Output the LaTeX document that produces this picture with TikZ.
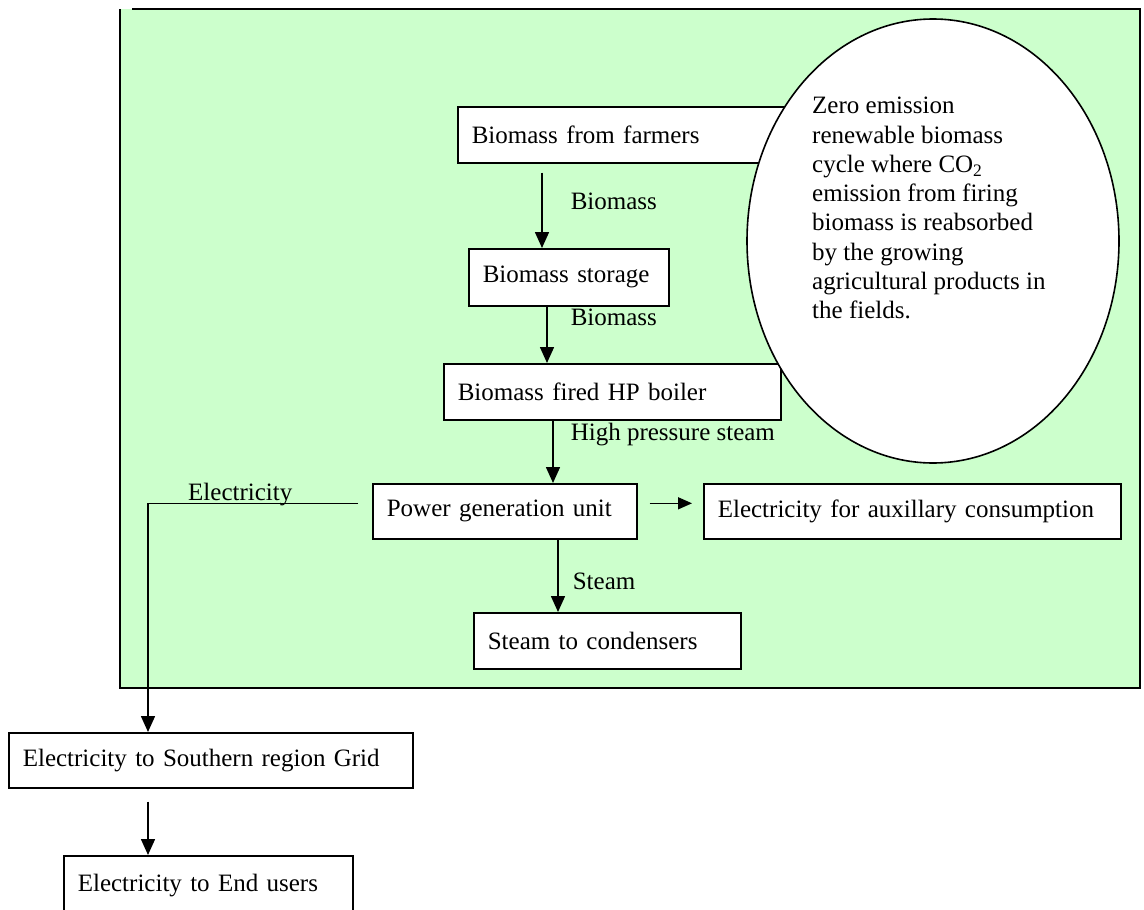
\documentclass[tikz,border=0pt]{standalone}
\usepackage{fontspec}
\setmainfont{Liberation Serif}
\usetikzlibrary{arrows.meta,shapes.geometric}
\definecolor{bggreen}{HTML}{CCFFCC}
\begin{document}
\begin{tikzpicture}[x=1pt,y=-1pt,
  txt/.style={font=\fontsize{25}{29.3}\selectfont},
  box/.style={txt, draw=black, line width=1.6pt, fill=white, anchor=north west,
    inner xsep=14pt, inner ysep=0pt, align=left},
  lbl/.style={txt, inner sep=0pt},
  arr/.style={line width=1.6pt, -{Triangle[width=14pt,length=16pt]}},
  arrsmall/.style={line width=1.6pt, -{Triangle[width=12pt,length=14pt]}}]
\useasboundingbox (0,0) rectangle (1144,910);
% background frame
\fill[bggreen] (120,9) rectangle (1140,688);
\draw[line width=1.6pt] (132,9) -- (1140,9) -- (1140,688) -- (120,688) -- (120,9);
% boxes
\node[box, text width=335pt, minimum height=56pt] (b1) at (457,106) {Biomass from farmers};
\node[box, text width=172pt, minimum height=57pt] (b2) at (468,248) {Biomass storage};
\node[box, text width=309pt, minimum height=56pt] (b3) at (443,363) {Biomass fired HP boiler};
\node[box, text width=236pt, minimum height=55pt] (b4) at (372,483) {Power generation unit};
\node[box, text width=389pt, minimum height=55pt] (b5) at (703,483) {Electricity for auxillary consumption};
\node[box, text width=239pt, minimum height=56pt] (b6) at (473,612) {Steam to condensers};
\node[box, text width=376pt, minimum height=55pt] (b7) at (8,732) {Electricity to Southern region Grid};
\node[box, text width=261pt, minimum height=60pt] (b8) at (63,855) {Electricity to End users};
% ellipse
\node[draw=black, line width=1.6pt, fill=white, ellipse, inner sep=0pt,
  minimum width=372pt, minimum height=444pt] (ell) at (933,241) {};
\node[lbl, align=left, anchor=north west] (etxt) at (812,97)
  {Zero emission\\renewable biomass\\cycle where CO\textsubscript{2}\\emission from firing\\biomass is reabsorbed\\by the growing\\agricultural products in\\the fields.};
% connectors
\draw[arr] ([shift={(85pt,-9pt)}]b1.south west) -- ([xshift=74pt]b2.north west)
  node[lbl, pos=0.38, anchor=west, xshift=28pt] (l1) {Biomass};
\draw[arr] ([xshift=79pt]b2.south west) -- ([xshift=104pt]b3.north west)
  node[lbl, pos=0.19, anchor=west, xshift=23pt] (l2) {Biomass};
\draw[arr] ([xshift=110pt]b3.south west) -- ([xshift=181pt]b4.north west)
  node[lbl, pos=0.22, anchor=west, xshift=17pt] (l3) {High pressure steam};
\draw[arr] ([xshift=186pt]b4.south west) -- ([xshift=85pt]b6.north west)
  node[lbl, pos=0.58, anchor=west, xshift=14pt] (l4) {Steam};
\draw[arrsmall] ([shift={(12pt,8pt)}]b4.east) -- ([shift={(-11pt,8pt)}]b5.west);
\draw[arr] ([shift={(-14pt,8pt)}]b4.west) -| ([xshift=140pt]b7.north west);
\node[lbl, anchor=base west] (l6) at (188,500) {Electricity};
\draw[arr] ([shift={(140pt,-13pt)}]b7.south west) -- ([xshift=85pt]b8.north west);
\end{tikzpicture}
\end{document}
